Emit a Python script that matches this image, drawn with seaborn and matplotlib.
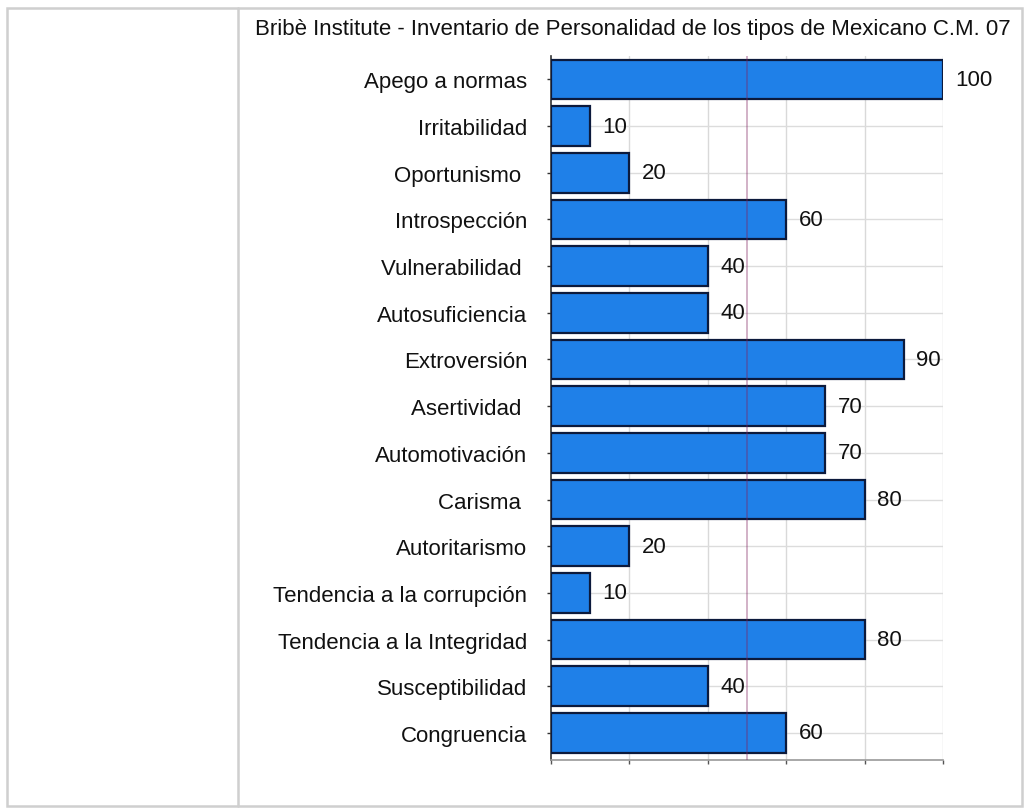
import matplotlib
matplotlib.use("Agg")
import matplotlib.pyplot as plt
import seaborn as sns
import pandas as pd
from matplotlib.lines import Line2D
from matplotlib.patches import Rectangle

title = "Bribè Institute - Inventario de Personalidad de los tipos de Mexicano C.M. 07"

rasgos = [
    "Apego a normas", "Irritabilidad", "Oportunismo ", "Introspección",
    "Vulnerabilidad ", "Autosuficiencia", "Extroversión", "Asertividad ",
    "Automotivación", "Carisma ", "Autoritarismo", "Tendencia a la corrupción",
    "Tendencia a la Integridad", "Susceptibilidad", "Congruencia",
]
puntajes = [100, 10, 20, 60, 40, 40, 90, 70, 70, 80, 20, 10, 80, 40, 60]
x_ticks = [0, 20, 40, 60, 80, 100]

df = pd.DataFrame({"rasgo": rasgos, "puntaje": puntajes})

sns.set_theme(style="white")
plt.rcParams["font.family"] = ["Liberation Sans", "DejaVu Sans"]

W, H = 1026, 812
fig = plt.figure(figsize=(W / 100, H / 100), dpi=100)
fig.patch.set_facecolor("white")

# page frame and side panel divider
fig.add_artist(Rectangle((7 / W, 1 - 807 / H), (1022 - 7) / W, (807 - 9) / H,
                         transform=fig.transFigure, fill=False,
                         edgecolor="#cfcfcf", linewidth=1.8))
fig.add_artist(Line2D([238 / W, 238 / W], [1 - 807 / H, 1 - 9 / H],
                      transform=fig.transFigure, color="#cfcfcf", linewidth=1.8))

ax = fig.add_axes([551 / W, 1 - 761 / H, (943 - 551) / W, (761 - 57) / H])

sns.barplot(data=df, x="puntaje", y="rasgo", orient="h", ax=ax,
            color="#1f80e8", saturation=1, edgecolor="#0c1a3c",
            linewidth=1.6, width=0.85, zorder=3)

ax.set_xlim(0, 100)
ax.set_ylim(len(rasgos) - 0.5 + 0.08, -0.5)
ax.set_xticks(x_ticks)
ax.set_xticklabels([])
ax.set_xlabel("")
ax.set_ylabel("")

# grid: vertical at the x ticks, horizontal through category centres
for xv in x_ticks[1:]:
    ax.axvline(xv, color="#d9d9d9", linewidth=1, zorder=1)
for i in range(len(rasgos)):
    ax.axhline(i, color="#dcdcdc", linewidth=1, zorder=1)
ax.axvline(50, color="#802060", alpha=0.35, linewidth=1.4, zorder=4)

for s in ["top", "right"]:
    ax.spines[s].set_visible(False)
ax.spines["left"].set_color("#333333")
ax.spines["left"].set_linewidth(1.2)
ax.spines["bottom"].set_color("#9a9a9a")
ax.spines["bottom"].set_linewidth(1.2)

ax.tick_params(axis="y", which="major", left=True, length=3, width=1,
               color="#333333", pad=14, labelsize=16, labelcolor="#111111")
ax.tick_params(axis="x", which="major", bottom=True, length=3, width=1,
               color="#555555")

ax.bar_label(ax.containers[0], labels=[str(v) for v in puntajes],
             padding=9, fontsize=16, color="#111111")

fig.text(255 / W, 1 - 30 / H, title, ha="left", va="center",
         fontsize=16, color="#111111")

fig.savefig("out.png", dpi=100, facecolor="white")
